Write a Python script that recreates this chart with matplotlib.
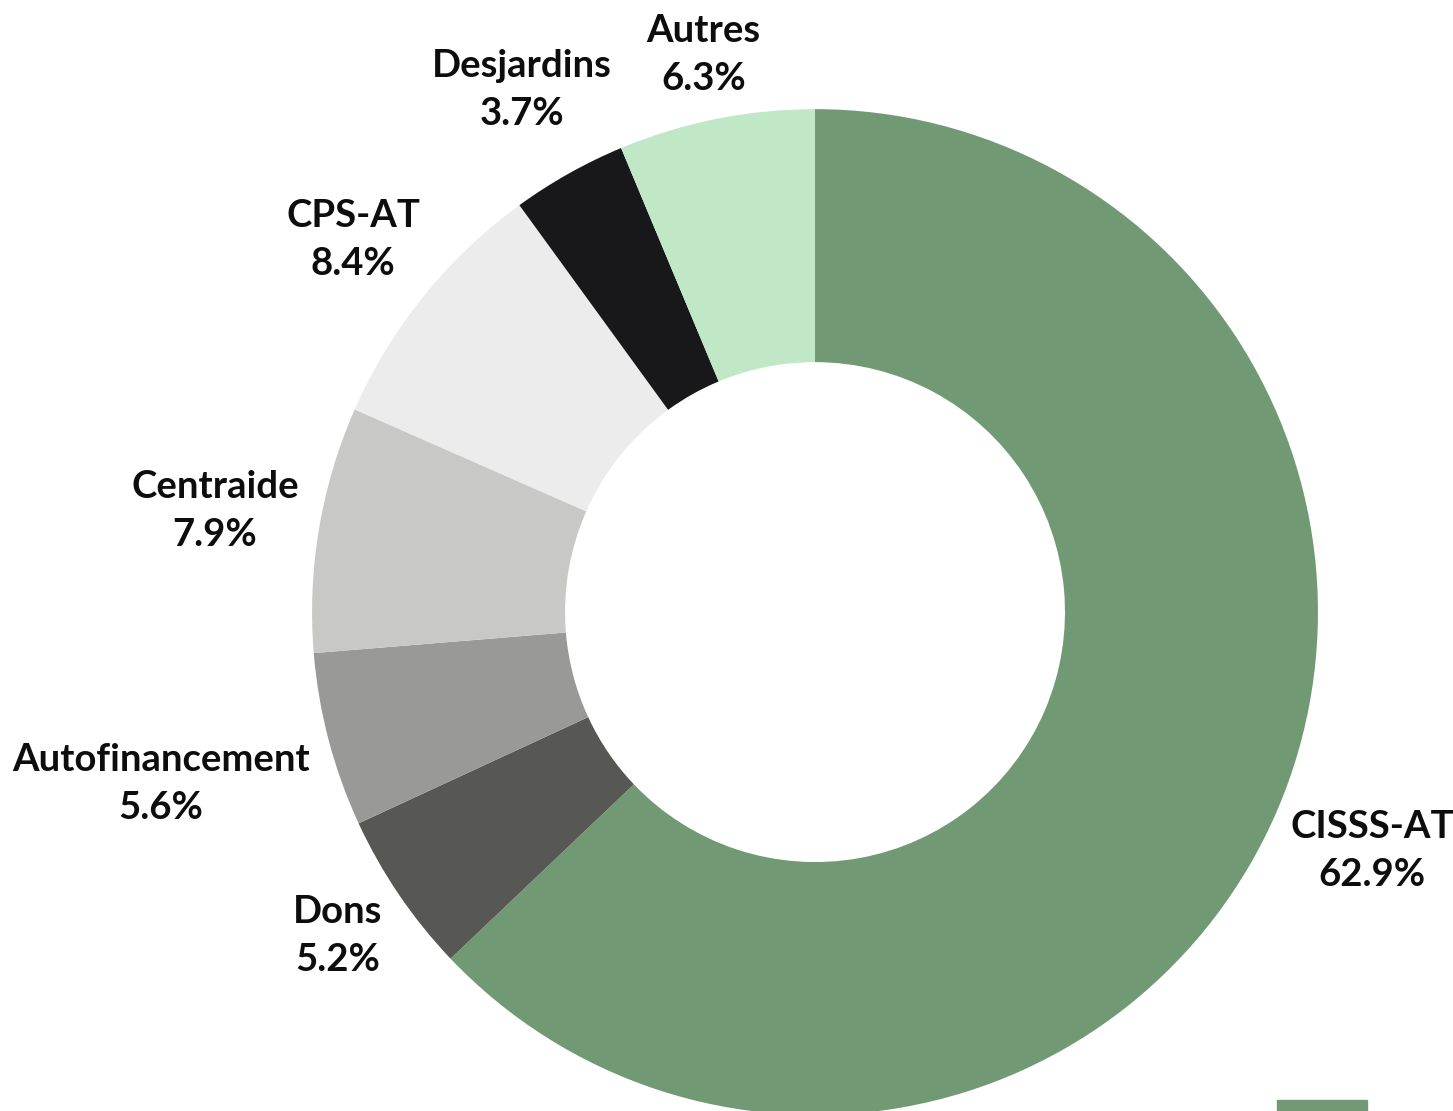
import numpy as np
import matplotlib.pyplot as plt
from matplotlib.patches import Rectangle

# data
labels = ['CISSS-AT', 'Dons', 'Autofinancement', 'Centraide', 'CPS-AT', 'Desjardins', 'Autres']
values = [62.9, 5.2, 5.6, 7.9, 8.4, 3.7, 6.3]
colors = ['#719a74', '#575853', '#999997', '#c8c9c6', '#ececec', '#18181a', '#c0e8c7']
label_dist = [1.205, 1.147, 1.345, 1.21, 1.18, 1.19, 1.13]

plt.rcParams['font.family'] = ['Lato', 'DejaVu Sans']

fig = plt.figure(figsize=(14.53, 11.11), dpi=100)
ax = fig.add_axes([0, 0, 1, 1])

wedges, _ = ax.pie(values, colors=colors, startangle=90, counterclock=False,
                   radius=1.0, wedgeprops=dict(width=0.503, linewidth=0))

for w, lab, v, d in zip(wedges, labels, values, label_dist):
    ang = np.deg2rad((w.theta1 + w.theta2) / 2)
    ax.text(d * np.cos(ang), d * np.sin(ang), f'{lab}\n{v:.1f}%',
            ha='center', va='center', fontsize=27.5, fontweight='bold',
            color='#0d0d0d', linespacing=1.5)

ax.set_xlim(-1.620, 1.268)
ax.set_ylim(-0.992, 1.217)
ax.set_aspect('equal')
ax.axis('off')

# legend swatch peeking in at the bottom edge
fig.patches.append(Rectangle((1277 / 1453, 0), 90 / 1453, 11 / 1111,
                             transform=fig.transFigure, color='#719a74'))

fig.savefig('out.png', dpi=100)
plt.close()
